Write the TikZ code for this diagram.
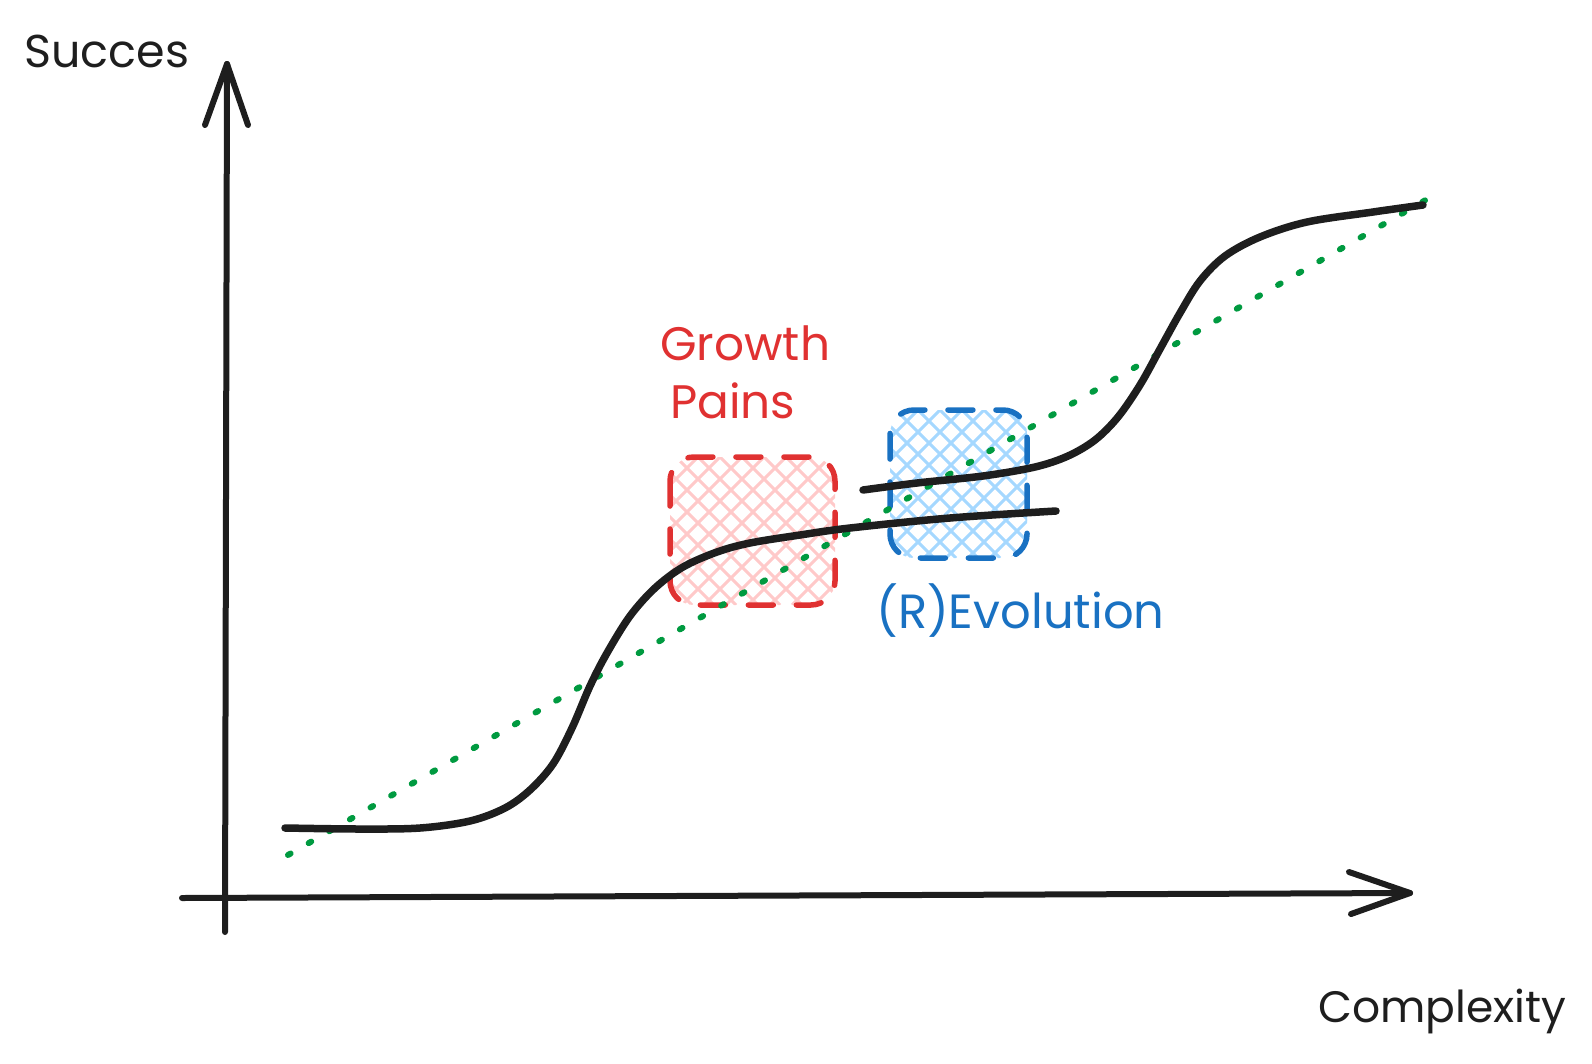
\documentclass[tikz,border=0pt]{standalone}
\usepackage{fontspec}
\setmainfont{Poppins}
\definecolor{ink}{HTML}{1E1E1E}
\definecolor{redstroke}{HTML}{E03131}
\definecolor{redhatch}{HTML}{FFC9C9}
\definecolor{bluestroke}{HTML}{1971C2}
\definecolor{bluehatch}{HTML}{A5D8FF}
\definecolor{dotgreen}{RGB}{0,154,64}
\tikzset{
  axisline/.style={draw=ink, line width=6pt, line cap=round, line join=round},
  curveline/.style={draw=ink, line width=7.5pt, line cap=round, line join=round},
  trendline/.style={draw=dotgreen, line width=6pt, line cap=round, dash pattern=on 3pt off 20.8pt},
  redhatchline/.style={draw=redhatch, line width=3pt},
  bluehatchline/.style={draw=bluehatch, line width=3pt},
  redframe/.style={draw=redstroke, line width=5.5pt, line cap=round, rounded corners=24pt, dash pattern=on 25pt off 23pt},
  blueframe/.style={draw=bluestroke, line width=5.5pt, line cap=round, rounded corners=24pt, dash pattern=on 25pt off 23pt},
  label/.style={inner sep=0pt, anchor=base west},
}
\begin{document}
\begin{tikzpicture}[x=1pt, y=-1pt]
\useasboundingbox (0,0) rectangle (1592,1063);

% hatched boxes
\begin{scope}
  \clip[rounded corners=24pt] (670,457) rectangle (835,605);
  \foreach \a in {500,522,...,1030} {
    \draw[redhatchline] (\a,457) -- (\a+148,605);
    \draw[redhatchline] (\a,457) -- (\a-148,605);
  }
\end{scope}
\begin{scope}
  \clip[rounded corners=24pt] (890,410) rectangle (1027,558);
  \foreach \a in {720,742,...,1210} {
    \draw[bluehatchline] (\a,410) -- (\a+148,558);
    \draw[bluehatchline] (\a,410) -- (\a-148,558);
  }
\end{scope}
\draw[redframe] (670,457) rectangle (835,605);
\draw[blueframe] (890,410) rectangle (1027,558);

% trend line
\coordinate (trendA) at (288,855);
\coordinate (trendB) at (1443,190);
\draw[trendline] (trendA) -- (trendB);

% axes
\coordinate (ybot) at (225,932);
\coordinate (ytop) at (227,64);
\coordinate (ywingL) at (205,125);
\coordinate (ywingR) at (248,125);
\coordinate (xleft) at (182,898);
\coordinate (xright) at (1410,893);
\coordinate (xwingU) at (1349,872);
\coordinate (xwingD) at (1351,914);
\draw[axisline] (ybot) -- (ytop);
\draw[axisline] (ywingL) -- (ytop) -- (ywingR);
\draw[axisline] (xleft) -- (xright);
\draw[axisline] (xwingU) -- (xright) -- (xwingD);

% S-curves
\draw[curveline] plot[smooth, tension=0.55] coordinates {
  (285,828) (360,829) (420,828) (470,821) (505,808) (530,790) (553,764)
  (572,728) (590,686) (607,653) (630,616) (655,588) (683,567) (717,552)
  (750,543) (800,535) (850,528) (950,518) (1056,511)};
\draw[curveline] plot[smooth, tension=0.55] coordinates {
  (863,490) (917,483) (983,476) (1035,467) (1068,456) (1095,440) (1118,417)
  (1140,385) (1160,349) (1180,313) (1200,281) (1225,256) (1260,237)
  (1307,222) (1373,212) (1423,205)};

% labels
\node[label, text=ink, font=\fontsize{46}{55}\selectfont] (succes) at (24,67) {Succes};
\node[label, text=ink, font=\fontsize{44}{53}\selectfont] (complexity) at (1318,1022) {Complexity};
\node[label, text=redstroke, font=\fontsize{47}{56}\selectfont] (growth) at (660,360) {Growth};
\node[label, text=redstroke, font=\fontsize{47}{56}\selectfont] (pains) at (670,418) {Pains};
\node[label, text=bluestroke, font=\fontsize{48}{57}\selectfont] (revolution) at (876,628) {(R)Evolution};
\end{tikzpicture}
\end{document}
